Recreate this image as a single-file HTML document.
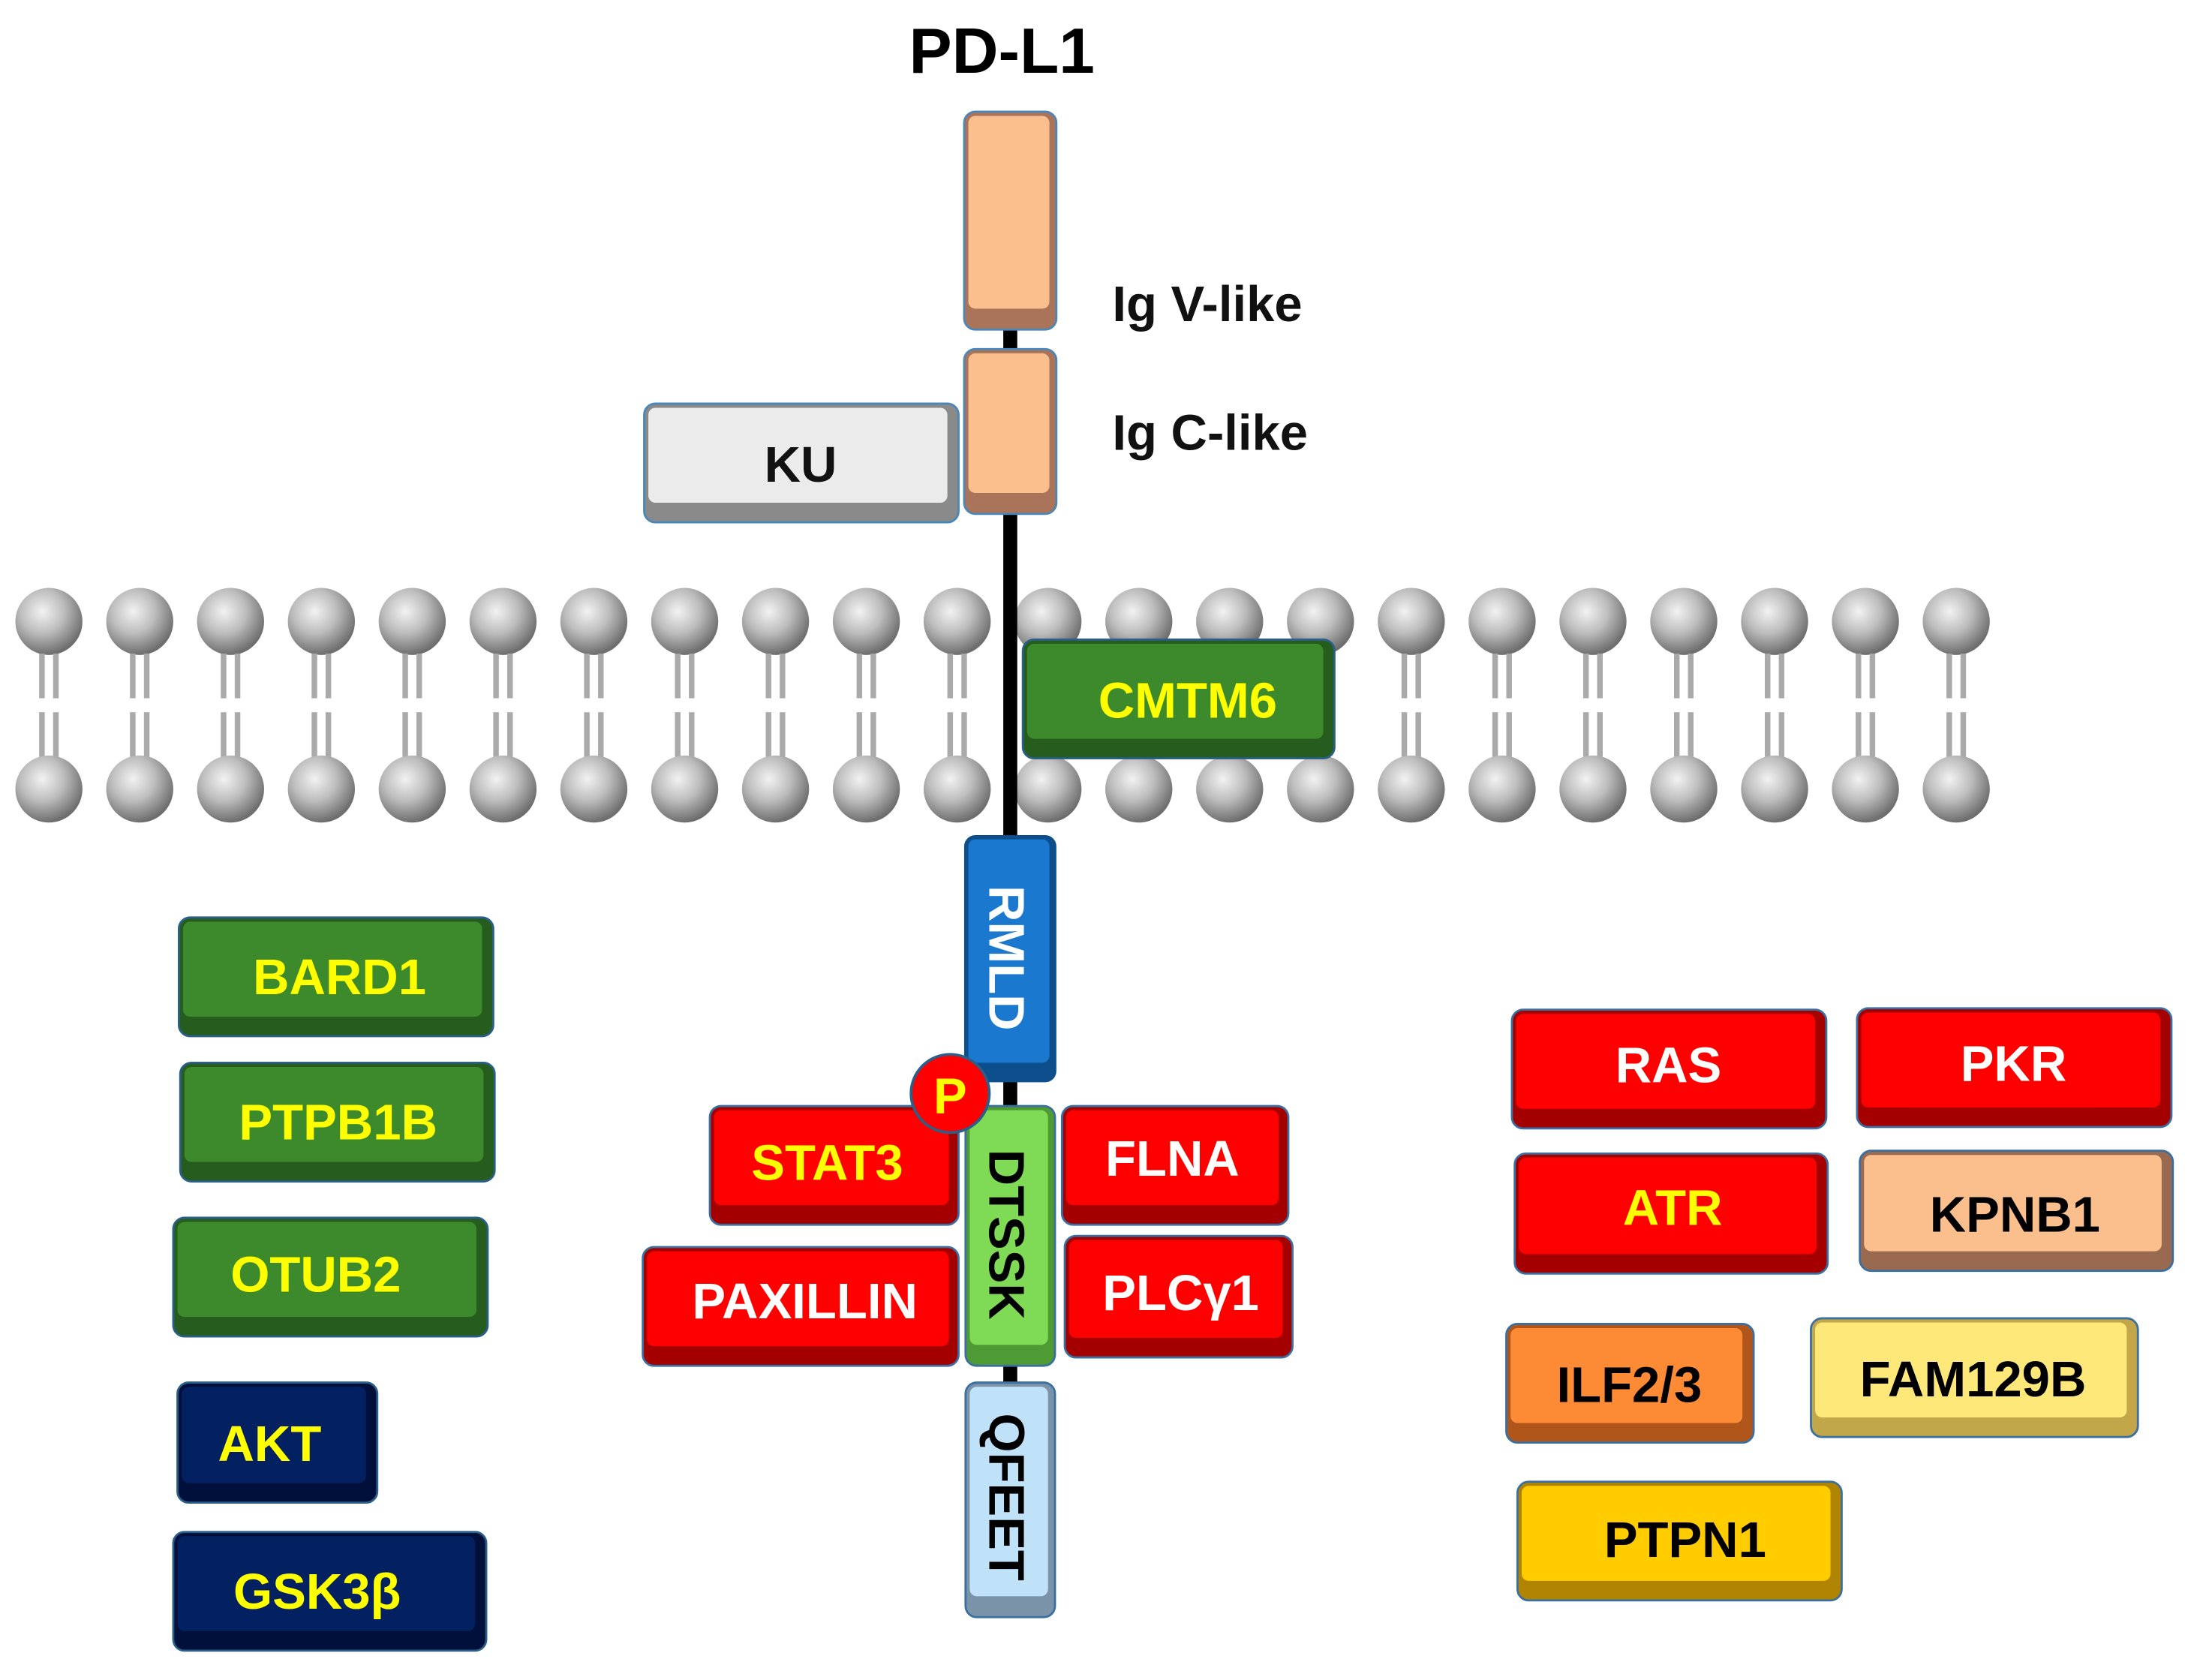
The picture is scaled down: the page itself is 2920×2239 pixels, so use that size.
<!DOCTYPE html>
<html><head><meta charset="utf-8"><style>
html,body{margin:0;padding:0;background:#fff;}
svg{display:block;}
text{font-family:"Liberation Sans",Arial,sans-serif;font-weight:bold;}
</style></head><body>
<svg width="2920" height="2239" viewBox="0 0 1568 1203" preserveAspectRatio="none" xmlns="http://www.w3.org/2000/svg">
<defs>
<radialGradient id="hd" cx="0.4" cy="0.35" r="0.65">
<stop offset="0" stop-color="#f2f2f2"/><stop offset="0.5" stop-color="#bdbdbd"/><stop offset="1" stop-color="#6e6e6e"/>
</radialGradient>
<g id="lip">
<circle cx="0" cy="445" r="24" fill="url(#hd)"/>
<rect x="-7" y="468" width="4" height="32" fill="#aaa"/><rect x="3" y="468" width="4" height="32" fill="#aaa"/>
<rect x="-7" y="510" width="4" height="32" fill="#aaa"/><rect x="3" y="510" width="4" height="32" fill="#aaa"/>
<circle cx="0" cy="565" r="24" fill="url(#hd)"/>
</g>
</defs>
<rect width="1568" height="1203" fill="#fff"/>
<text x="717" y="52" font-size="46" text-anchor="middle" fill="#000">PD-L1</text>
<!-- membrane -->
<use href="#lip" x="35"/><use href="#lip" x="100"/><use href="#lip" x="165"/><use href="#lip" x="230"/><use href="#lip" x="295"/><use href="#lip" x="360"/><use href="#lip" x="425"/><use href="#lip" x="490"/><use href="#lip" x="555"/><use href="#lip" x="620"/><use href="#lip" x="685"/><use href="#lip" x="750"/><use href="#lip" x="815"/><use href="#lip" x="880"/><use href="#lip" x="945"/><use href="#lip" x="1010"/><use href="#lip" x="1075"/><use href="#lip" x="1140"/><use href="#lip" x="1205"/><use href="#lip" x="1270"/><use href="#lip" x="1335"/><use href="#lip" x="1400"/>
<!-- backbone -->
<rect x="718" y="230" width="10" height="785" fill="#000"/>
<!-- Ig domains -->
<rect x="690" y="80" width="66" height="156" rx="8" fill="#a9745a" stroke="#4a86b8" stroke-width="1.5"/>
<rect x="693" y="83" width="58" height="138" rx="5" fill="#fbbf8e"/>
<rect x="690" y="250" width="66" height="118" rx="8" fill="#a9745a" stroke="#4a86b8" stroke-width="1.5"/>
<rect x="693" y="253" width="58" height="100" rx="5" fill="#fbbf8e"/>
<text x="796" y="230" font-size="36" fill="#111">Ig V-like</text>
<text x="796" y="322" font-size="36" fill="#111">Ig C-like</text>
<!-- KU -->
<rect x="461" y="289" width="225" height="85" rx="8" fill="#8a8a8a" stroke="#4a86b8" stroke-width="1.5"/>
<rect x="464" y="292" width="214" height="68" rx="5" fill="#ebebeb"/>
<text x="573" y="345" font-size="36" text-anchor="middle" fill="#111">KU</text>
<!-- CMTM6 -->
<rect x="732" y="458" width="223" height="85" rx="8" fill="#265c1e" stroke="#2a5f8a" stroke-width="1.5"/>
<rect x="735" y="461" width="212" height="68" rx="5" fill="#3d8a2c"/>
<text x="850" y="514" font-size="36" text-anchor="middle" fill="#ffff00">CMTM6</text>
<!-- RMLD -->
<rect x="690" y="598" width="66" height="177" rx="8" fill="#0d4f8c"/>
<rect x="693" y="601" width="58" height="160" rx="5" fill="#1a78cf"/>
<text transform="translate(708,686) rotate(90)" font-size="36" text-anchor="middle" fill="#fff">RMLD</text>
<!-- DTSSK -->
<rect x="691" y="792" width="64" height="186" rx="8" fill="#4e9a34" stroke="#3a6fa0" stroke-width="1.5"/>
<rect x="694" y="795" width="56" height="168" rx="5" fill="#7fdb55"/>
<text transform="translate(708,884) rotate(90)" font-size="36" text-anchor="middle" fill="#000">DTSSK</text>
<!-- QFEET -->
<rect x="691" y="990" width="64" height="168" rx="8" fill="#7a93a8" stroke="#3a6fa0" stroke-width="1.5"/>
<rect x="694" y="993" width="56" height="150" rx="5" fill="#bfe2f8"/>
<text transform="translate(708,1072) rotate(90)" font-size="36" text-anchor="middle" fill="#000">QFEET</text>
<!-- red boxes around -->
<g font-size="36" text-anchor="middle">
<rect x="508" y="792" width="178" height="85" rx="8" fill="#a50000" stroke="#3a6fa0" stroke-width="1.5"/><rect x="511" y="795" width="168" height="68" rx="5" fill="#fe0000"/><text x="592" y="845" fill="#ffff00">STAT3</text>
<rect x="460" y="893" width="226" height="85" rx="8" fill="#a50000" stroke="#3a6fa0" stroke-width="1.5"/><rect x="463" y="896" width="216" height="68" rx="5" fill="#fe0000"/><text x="576" y="944" fill="#fff">PAXILLIN</text>
<rect x="760" y="792" width="162" height="85" rx="8" fill="#a50000" stroke="#3a6fa0" stroke-width="1.5"/><rect x="763" y="795" width="152" height="68" rx="5" fill="#fe0000"/><text x="839" y="842" fill="#fff">FLNA</text>
<rect x="762" y="885" width="163" height="87" rx="8" fill="#a50000" stroke="#3a6fa0" stroke-width="1.5"/><rect x="765" y="888" width="153" height="70" rx="5" fill="#fe0000"/><text x="845" y="938" fill="#fff">PLCγ1</text>
</g>
<circle cx="680" cy="783" r="28" fill="#fe0000" stroke="#2a5f8a" stroke-width="2"/>
<text x="680" y="797" font-size="36" text-anchor="middle" fill="#ffff00">P</text>
<!-- left column -->
<g font-size="36" text-anchor="middle" fill="#ffff00">
<rect x="128" y="657" width="225" height="85" rx="8" fill="#265c1e" stroke="#2a5f8a" stroke-width="1.5"/><rect x="131" y="660" width="214" height="68" rx="5" fill="#3d8a2c"/><text x="243" y="712">BARD1</text>
<rect x="129" y="761" width="225" height="85" rx="8" fill="#265c1e" stroke="#2a5f8a" stroke-width="1.5"/><rect x="132" y="764" width="214" height="68" rx="5" fill="#3d8a2c"/><text x="242" y="816">PTPB1B</text>
<rect x="124" y="872" width="225" height="85" rx="8" fill="#265c1e" stroke="#2a5f8a" stroke-width="1.5"/><rect x="127" y="875" width="214" height="68" rx="5" fill="#3d8a2c"/><text x="226" y="925">OTUB2</text>
<rect x="127" y="990" width="143" height="86" rx="8" fill="#00103a" stroke="#2a5f8a" stroke-width="1.5"/><rect x="130" y="993" width="132" height="69" rx="5" fill="#032060"/><text x="193" y="1046">AKT</text>
<rect x="124" y="1097" width="224" height="85" rx="8" fill="#00103a" stroke="#2a5f8a" stroke-width="1.5"/><rect x="127" y="1100" width="213" height="68" rx="5" fill="#032060"/><text x="227" y="1152">GSK3β</text>
</g>
<!-- right column -->
<g font-size="36" text-anchor="middle">
<rect x="1082" y="723" width="225" height="85" rx="8" fill="#a50000" stroke="#3a6fa0" stroke-width="1.5"/><rect x="1085" y="726" width="214" height="68" rx="5" fill="#fe0000"/><text x="1194" y="775" fill="#fff">RAS</text>
<rect x="1329" y="722" width="225" height="85" rx="8" fill="#a50000" stroke="#3a6fa0" stroke-width="1.5"/><rect x="1332" y="725" width="214" height="68" rx="5" fill="#fe0000"/><text x="1441" y="774" fill="#fff">PKR</text>
<rect x="1084" y="826" width="224" height="86" rx="8" fill="#a50000" stroke="#3a6fa0" stroke-width="1.5"/><rect x="1087" y="829" width="213" height="69" rx="5" fill="#fe0000"/><text x="1197" y="877" fill="#ffff00">ATR</text>
<rect x="1331" y="824" width="224" height="86" rx="8" fill="#9a6a50" stroke="#3a6fa0" stroke-width="1.5"/><rect x="1334" y="827" width="213" height="69" rx="5" fill="#fbbf8e"/><text x="1442" y="882" fill="#000">KPNB1</text>
<rect x="1078" y="948" width="177" height="85" rx="8" fill="#b0561a" stroke="#3a6fa0" stroke-width="1.5"/><rect x="1081" y="951" width="166" height="68" rx="5" fill="#fd8a35"/><text x="1166" y="1004" fill="#000">ILF2/3</text>
<rect x="1296" y="944" width="234" height="85" rx="8" fill="#c2a64a" stroke="#3a6fa0" stroke-width="1.5"/><rect x="1299" y="947" width="223" height="68" rx="5" fill="#ffe87a"/><text x="1412" y="1000" fill="#000">FAM129B</text>
<rect x="1086" y="1061" width="232" height="85" rx="8" fill="#b08400" stroke="#3a6fa0" stroke-width="1.5"/><rect x="1089" y="1064" width="221" height="68" rx="5" fill="#ffcc00"/><text x="1206" y="1115" fill="#000">PTPN1</text>
</g>
</svg>
</body></html>
